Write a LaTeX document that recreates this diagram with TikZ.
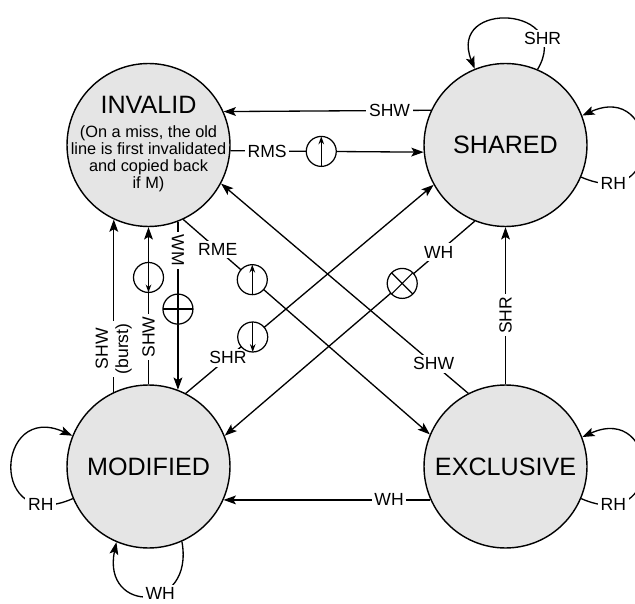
\documentclass[tikz,border=0pt]{standalone}
\usepackage{fontspec}
\setmainfont{Liberation Sans}
\usetikzlibrary{arrows.meta}

\tikzset{
    state/.style={circle, draw, line width=0.8pt, fill=black!10, minimum size=3.26cm, inner sep=0pt, align=center, font=\fontsize{14.3}{16}\selectfont},
    lbl/.style={fill=white, inner sep=1.5pt, font=\fontsize{10}{11.5}\selectfont},
    sign/.style={circle, draw, fill=white, minimum size=0.6cm, inner sep=0pt, line width=0.7pt},
    upsign/.style={sign, path picture={\draw[line width=0.7pt,-{Stealth[length=4.5pt,width=3.2pt]}] (path picture bounding box.south) -- (path picture bounding box.north);}},
    downsign/.style={sign, path picture={\draw[line width=0.7pt,-{Stealth[length=4.5pt,width=3.2pt]}] (path picture bounding box.north) -- (path picture bounding box.south);}},
    plussign/.style={sign, path picture={\draw[line width=0.7pt,-] (path picture bounding box.north) -- (path picture bounding box.south) (path picture bounding box.west) -- (path picture bounding box.east);}},
    crosssign/.style={sign, path picture={\draw[line width=0.7pt,-] (path picture bounding box.north west) -- (path picture bounding box.south east) (path picture bounding box.south west) -- (path picture bounding box.north east);}}
}

\begin{document}
\begin{tikzpicture}[x=0.02cm, y=-0.02cm, line width=0.75pt, >={Stealth[length=7pt,width=5pt,inset=1.5pt]}]
                    \useasboundingbox (0,0) rectangle (635,604);
                    \node[state] (inv) at (148.5,145) {\makebox[0pt]{\smash{\raisebox{-3pt}{\parbox[c]{3.3cm}{\centering INVALID\\[4pt]\fontsize{9.3}{9.6}\selectfont (On a miss, the old\\line is first invalidated\\and copied back\\if M)}}}}};
                    \node[state] (shr) at (505.5,145) {SHARED};
                    \node[state] (mod) at (148.5,466.5) {MODIFIED};
                    \node[state] (exc) at (505.5,466.5) {EXCLUSIVE};
                    \draw[->] (shr.155.3) -- node[lbl, pos=0.2] {SHW} (inv.24.7);
                    \draw[->] (inv.-4.9) -- node[lbl, pos=0.19] {RMS} node[upsign, pos=0.47] {} (shr.-175.1);
                    \draw[->] (mod.115.8) -- node[lbl, pos=0.25, rotate=90, align=center] {SHW\\(burst)} (inv.-115.8);
                    \draw[->] (mod.90) -- node[lbl, pos=0.3, rotate=90] {SHW} node[downsign, pos=0.68] {} (inv.-90);
                    \draw[->] (inv.-69.5) -- node[lbl, pos=0.17, rotate=-90] {WM} node[plussign, pos=0.52] {} (mod.69.5);
                    \draw[->] (inv.-65.6) -- node[lbl, pos=0.14] {RME} node[upsign, pos=0.28] {} (exc.157.4);
                    \draw[->] (exc.117.3) -- node[lbl, pos=0.14] {SHW} (inv.-28.2);
                    \draw[->] (mod.63.9) -- node[lbl, pos=0.17] {SHR} node[downsign, pos=0.27] {} (shr.-151.5);
                    \draw[->] (shr.-112.6) -- node[lbl, pos=0.144] {WH} node[crosssign, pos=0.29] {} (mod.22.9);
                    \draw[->] (exc.90) -- node[lbl, pos=0.44, rotate=90] {SHR} (shr.-90);
                    \draw[->] (exc.204.3) -- node[lbl, pos=0.2] {WH} (mod.-24.3);
                    \draw[->] (shr.67) .. controls +(37,-63) and +(-28,-70) .. node[lbl, pos=0.2] {SHR} (shr.112);
                    \draw[->] (shr.-23.9) .. controls +(85,37) and +(77,-35) .. node[lbl, pos=0.15] {RH} (shr.21.2);
                    \draw[->] (exc.-23.9) .. controls +(85,37) and +(77,-35) .. node[lbl, pos=0.15] {RH} (exc.21.2);
                    \draw[->] (mod.203.9) .. controls +(-85,37) and +(-77,-35) .. node[lbl, pos=0.15] {RH} (mod.158.8);
                    \draw[->] (mod.-66.4) .. controls +(13,72) and +(-15,72) .. node[lbl, pos=0.4] {WH} (mod.-113.6);
                \end{tikzpicture}
\end{document}
